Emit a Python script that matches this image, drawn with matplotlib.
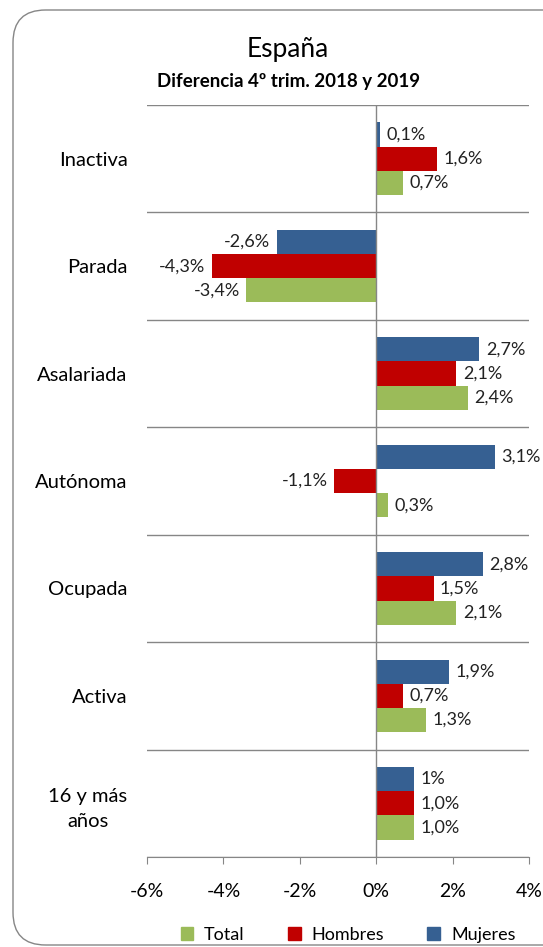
import matplotlib
matplotlib.use("Agg")
import matplotlib.pyplot as plt
from matplotlib.patches import FancyBboxPatch, Patch
import numpy as np

plt.rcParams['font.family'] = ['Lato', 'DejaVu Sans']

categories = ["Inactiva", "Parada", "Asalariada", "Autónoma", "Ocupada", "Activa", "16 y más\naños"]
mujeres = [0.1, -2.6, 2.7, 3.1, 2.8, 1.9, 1.0]
hombres = [1.6, -4.3, 2.1, -1.1, 1.5, 0.7, 1.0]
total = [0.7, -3.4, 2.4, 0.3, 2.1, 1.3, 1.0]
mujeres_labels = ["0,1%", "-2,6%", "2,7%", "3,1%", "2,8%", "1,9%", "1%"]
hombres_labels = ["1,6%", "-4,3%", "2,1%", "-1,1%", "1,5%", "0,7%", "1,0%"]
total_labels = ["0,7%", "-3,4%", "2,4%", "0,3%", "2,1%", "1,3%", "1,0%"]
xticks = [-6, -4, -2, 0, 2, 4]
xtick_labels = ["-6%", "-4%", "-2%", "0%", "2%", "4%"]

c_m = "#366092"
c_h = "#C00000"
c_t = "#9BBB59"
gray = "#868686"

fig = plt.figure(figsize=(5.43, 9.47), dpi=100)

# rounded border
border = FancyBboxPatch((13/543, 2/947), 1.2, (947-10-2)/947,
                        boxstyle="round,pad=0,rounding_size=0.06",
                        transform=fig.transFigure, fill=False,
                        edgecolor=gray, linewidth=1.0, mutation_aspect=543/947)
fig.patches.append(border)

ax = fig.add_axes([147/543, 1-857/947, (529-147)/543, (857-105)/947])

n = len(categories)
ypos = np.arange(n)[::-1].astype(float)
bh = 0.225
series = [(mujeres, mujeres_labels, c_m, bh), (hombres, hombres_labels, c_h, 0.0), (total, total_labels, c_t, -bh)]
for vals, labs, col, off in series:
    ax.barh(ypos + off, vals, height=bh, color=col, zorder=3)
    for y, v, lab in zip(ypos + off, vals, labs):
        if v >= 0:
            ax.text(v + 0.17, y, lab, ha='left', va='center', fontsize=13, color='#222222')
        else:
            ax.text(v - 0.17, y, lab, ha='right', va='center', fontsize=13, color='#222222')

ax.set_xlim(-6, 4)
ax.set_ylim(-0.5, n - 0.5)
ax.set_xticks(xticks)
ax.set_xticklabels(xtick_labels, fontsize=14)
ax.set_yticks(ypos)
ax.set_yticklabels(categories, fontsize=14.5, linespacing=1.6)
for lab in ax.get_yticklabels():
    lab.set_multialignment('center')
ax.tick_params(axis='y', length=0, pad=14)
ax.tick_params(axis='x', length=5, color=gray, pad=14, direction='out')

for b in np.arange(n + 1) - 0.5:
    ax.axhline(b, color=gray, linewidth=1.0, zorder=1)
ax.axvline(0, color=gray, linewidth=1.0, zorder=4)

for s in ['left', 'right', 'top']:
    ax.spines[s].set_visible(False)
ax.spines['bottom'].set_color(gray)

fig.text(288/543, 1-50/947, "España", ha='center', va='center', fontsize=19)
fig.text(289/543, 1-82/947, "Diferencia 4º trim. 2018 y 2019", ha='center', va='center',
         fontsize=13.5, fontweight='bold')

# legend
handles = [Patch(color=c_t, label="Total"), Patch(color=c_h, label="Hombres"), Patch(color=c_m, label="Mujeres")]
fig.legend(handles=handles, loc='center', bbox_to_anchor=(348/543, 1-935/947), ncol=3,
           frameon=False, fontsize=13, handlelength=0.7, handleheight=0.7,
           columnspacing=2.4, handletextpad=0.6)

fig.savefig("out.png", dpi=100)
